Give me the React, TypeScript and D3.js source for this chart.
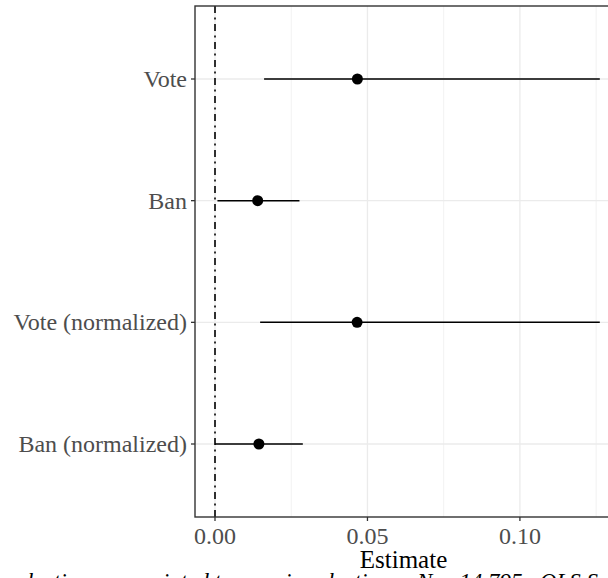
import React from "react";
import * as d3 from "d3";

const categories = ["Vote", "Ban", "Vote (normalized)", "Ban (normalized)"];
const estimates = [0.0467, 0.014, 0.0466, 0.0144];
const lowerCI = [0.0161, 0.0008, 0.0148, 0.0];
const upperCI = [0.1262, 0.0277, 0.1262, 0.0288];
const majorTicks = [0, 0.05, 0.1];
const minorTicks = [0.025, 0.075, 0.125];
const tickLabels = ["0.00", "0.05", "0.10"];
const xTitle = "Estimate";
const captionLeft = "Note: Popular elections are pointed to as prior elections.";
const captionRight = "N = 14,795 , OLS Specification with fixed effects.";

const W = 608;
const H = 578;
const panel = { left: 195, right: 612, top: 6, bottom: 517 };
const FONT = "'Liberation Serif', 'Times New Roman', serif";

export default function App() {
  const x = d3.scaleLinear().domain([-0.00656, 0.1302]).range([panel.left, panel.right]);
  const y = d3
    .scalePoint<string>()
    .domain(categories)
    .range([panel.top, panel.bottom])
    .padding(0.6);

  return (
    <svg
      width={W}
      height={H}
      style={{ position: "absolute", left: 0, top: 0 }}
      fontFamily={FONT}
    >
      <rect x={0} y={0} width={W} height={H} fill="white" />
      <defs>
        <clipPath id="pclip">
          <rect x={panel.left} y={panel.top} width={panel.right - panel.left} height={panel.bottom - panel.top} />
        </clipPath>
      </defs>
      <g clipPath="url(#pclip)">
        {minorTicks.map((t) => (
          <line key={"mi" + t} x1={x(t)} x2={x(t)} y1={panel.top} y2={panel.bottom} stroke="#f2f2f2" strokeWidth={1} />
        ))}
        {majorTicks.map((t) => (
          <line key={"ma" + t} x1={x(t)} x2={x(t)} y1={panel.top} y2={panel.bottom} stroke="#ebebeb" strokeWidth={1.3} />
        ))}
        {categories.map((c) => (
          <line key={"hg" + c} x1={panel.left} x2={panel.right} y1={y(c)} y2={y(c)} stroke="#ebebeb" strokeWidth={1.3} />
        ))}
        <line
          x1={x(0)}
          x2={x(0)}
          y1={panel.top}
          y2={panel.bottom}
          stroke="black"
          strokeWidth={1.6}
          strokeDasharray="7 4.5 2 4.5"
        />
        {categories.map((c, i) => (
          <g key={"m" + c}>
            <line x1={x(lowerCI[i])} x2={x(upperCI[i])} y1={y(c)} y2={y(c)} stroke="black" strokeWidth={1.5} />
            <circle cx={x(estimates[i])} cy={y(c)} r={5.5} fill="black" />
          </g>
        ))}
      </g>
      <rect
        x={panel.left}
        y={panel.top}
        width={panel.right - panel.left}
        height={panel.bottom - panel.top}
        fill="none"
        stroke="#333333"
        strokeWidth={1.4}
      />
      {categories.map((c) => (
        <g key={"yl" + c}>
          <line x1={panel.left - 4} x2={panel.left} y1={y(c)} y2={y(c)} stroke="#333333" strokeWidth={1.3} />
          <text x={panel.left - 8} y={y(c)} dy="0.33em" textAnchor="end" fontSize={24} fill="#4d4d4d">
            {c}
          </text>
        </g>
      ))}
      {majorTicks.map((t, i) => (
        <g key={"xl" + t}>
          <line x1={x(t)} x2={x(t)} y1={panel.bottom} y2={panel.bottom + 4} stroke="#333333" strokeWidth={1.3} />
          <text x={x(t)} y={544} textAnchor="middle" fontSize={24} fill="#4d4d4d">
            {tickLabels[i]}
          </text>
        </g>
      ))}
      <text x={(panel.left + panel.right) / 2} y={568} textAnchor="middle" fontSize={25} fill="black">
        {xTitle}
      </text>
      <text y={589} fontSize={23} fontStyle="italic" fill="black">
        <tspan x={405} textAnchor="end">{captionLeft}</tspan>
        <tspan x={417} textAnchor="start">{captionRight}</tspan>
      </text>
    </svg>
  );
}
